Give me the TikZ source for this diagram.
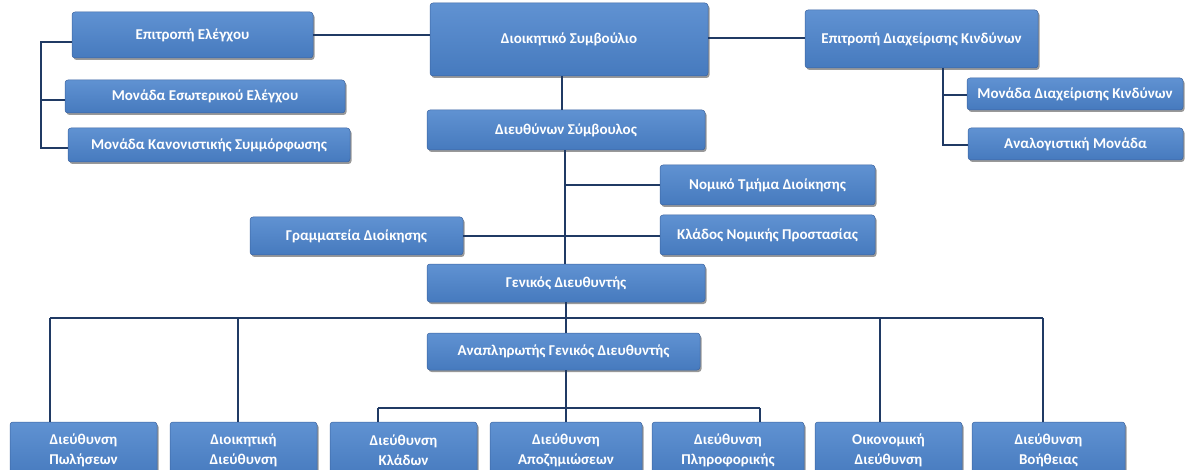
\documentclass[tikz,border=0pt]{standalone}
\usepackage{fontspec}
\setmainfont{Carlito}
\usetikzlibrary{shadows}
\definecolor{boxtop}{RGB}{96,146,210}
\definecolor{boxbot}{RGB}{70,122,190}
\definecolor{boxedge}{RGB}{60,100,160}
\definecolor{linecol}{RGB}{32,58,100}
\tikzset{
  orgbox/.style={rounded corners=3pt, top color=boxtop, bottom color=boxbot, draw=boxedge, line width=0.5pt,
    drop shadow={shadow xshift=1.5pt, shadow yshift=-2pt, fill=black, opacity=0.4},
    text=white, font=\bfseries\fontsize{15}{18}\selectfont, align=center, inner sep=0pt},
  conn/.style={draw=linecol, line width=2pt}
}
\newcommand{\bx}[6]{\node[orgbox, minimum width=#4pt, minimum height=#5pt] (#1) at (#2,#3) {#6};}
\begin{document}
\begin{tikzpicture}[x=1pt,y=-1pt]
\useasboundingbox (0,0) rectangle (1185,470);
\coordinate (lb1) at (41,42);
\coordinate (lb2) at (41,100);
\coordinate (lb3) at (41,148);
\coordinate (rb0) at (943,68);
\coordinate (rb1) at (943,95);
\coordinate (rb2) at (943,145);
\coordinate (busL) at (50,318);
\coordinate (bus2) at (238,318);
\coordinate (bus3) at (880,318);
\coordinate (busR) at (1043,318);
\coordinate (subL) at (378,408);
\coordinate (subR) at (760,408);

\bx{ee}{192.5}{35}{241}{46}{Επιτροπή Ελέγχου}
\bx{mee}{205}{96.5}{280}{33}{Μονάδα Εσωτερικού Ελέγχου}
\bx{mks}{209}{145}{282}{34}{Μονάδα Κανονιστικής Συμμόρφωσης}
\bx{ds}{569}{39.5}{278}{73}{Διοικητικό Συμβούλιο}
\bx{erk}{921.5}{39}{233}{58}{Επιτροπή Διαχείρισης Κινδύνων}
\bx{mdk}{1075}{94}{216}{32}{Μονάδα Διαχείρισης Κινδύνων}
\bx{am}{1075.5}{144}{215}{32}{Αναλογιστική Μονάδα}
\bx{ceo}{566}{130}{278}{40}{Διευθύνων Σύμβουλος}
\bx{ntd}{767.5}{185}{215}{40}{Νομικό Τμήμα Διοίκησης}
\bx{knp}{767.5}{235}{215}{40}{Κλάδος Νομικής Προστασίας}
\bx{gdi}{356.5}{236}{213}{38}{Γραμματεία Διοίκησης}
\bx{gm}{566}{283}{278}{38}{Γενικός Διευθυντής}
\bx{agm}{563.5}{351.5}{273}{37}{Αναπληρωτής Γενικός Διευθυντής}
\bx{d1}{83.5}{450}{147}{56}{Διεύθυνση\\[2pt]Πωλήσεων}
\bx{d2}{243.5}{450}{147}{56}{Διοικητική\\[2pt]Διεύθυνση}
\bx{d3}{403.5}{450}{147}{56}{Διεύθυνση\\[2pt]Κλάδων}
\bx{d4}{566}{450}{152}{56}{Διεύθυνση\\[2pt]Αποζημιώσεων}
\bx{d5}{728}{450}{152}{56}{Διεύθυνση\\[2pt]Πληροφορικής}
\bx{d6}{888.5}{450}{147}{56}{Οικονομική\\[2pt]Διεύθυνση}
\bx{d7}{1048.5}{450}{153}{56}{Διεύθυνση\\[2pt]Βοήθειας}

\draw[conn] (ee.west |- lb1) -- (lb1) -- (lb3) -- (mks.west |- lb3);
\draw[conn] (lb2) -- (mee.west |- lb2);
\draw[conn] (ee.east) -- (ee.east -| ds.west);
\draw[conn] (ds.east |- 0,38) -- (erk.west |- 0,38);
\draw[conn] (ds.south -| 562,0) -- (ceo.north -| 562,0);
\draw[conn] (rb0) -- (rb2) -- (am.west |- rb2);
\draw[conn] (rb1) -- (mdk.west |- rb1);
\draw[conn] (ceo.south -| 565,0) -- (gm.north -| 565,0);
\draw[conn] (565,185) -- (ntd.west);
\draw[conn] (gdi.east) -- (knp.west |- gdi.east);
\draw[conn] (gm.south) -- (agm.north -| gm.south);
\draw[conn] (busL) -- (busR);
\draw[conn] (busL) -- (d1.north -| busL);
\draw[conn] (bus2) -- (d2.north -| bus2);
\draw[conn] (bus3) -- (d6.north -| bus3);
\draw[conn] (busR) -- (d7.north -| busR);
\draw[conn] (agm.south -| d4.north) -- (d4.north);
\draw[conn] (subL) -- (subR);
\draw[conn] (subL) -- (d3.north -| subL);
\draw[conn] (subR) -- (d5.north -| subR);
\end{tikzpicture}
\end{document}
